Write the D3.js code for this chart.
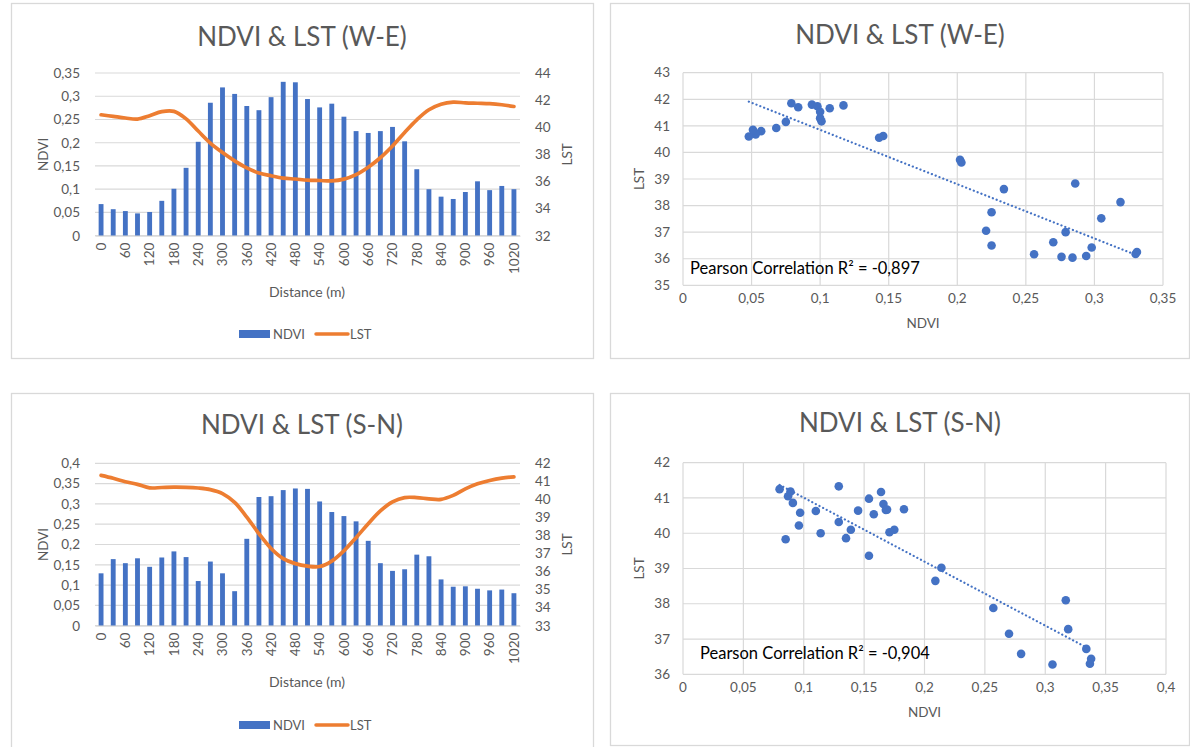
<!DOCTYPE html>
<html>
<head>
<meta charset="utf-8">
<script src="https://cdn.jsdelivr.net/npm/d3@7/dist/d3.min.js"></script>
<style>
  body { margin: 0; background: #fff; }
  text { font-family: Lato, "Open Sans", sans-serif; fill: #595959; }
</style>
</head>
<body>
<svg id="chart" width="1190" height="747"></svg>
<script>
// distance along the transect (m)
var distance = [0,30,60,90,120,150,180,210,240,270,300,330,360,390,420,450,480,510,540,570,600,630,660,690,720,750,780,810,840,870,900,930,960,990,1020];

// W-E transect
var ndviWE = [0.068,0.057,0.053,0.048,0.051,0.075,0.101,0.146,0.202,0.286,0.319,0.305,0.279,0.270,0.298,0.331,0.330,0.294,0.276,0.284,0.256,0.225,0.221,0.225,0.234,0.203,0.143,0.100,0.084,0.079,0.094,0.117,0.098,0.107,0.100];
var lstWE  = [40.92,40.80,40.68,40.60,40.85,41.15,41.17,40.62,39.72,38.83,38.13,37.52,37.00,36.62,36.42,36.25,36.18,36.10,36.07,36.04,36.17,36.50,37.05,37.75,38.62,39.62,40.55,41.29,41.70,41.85,41.80,41.77,41.74,41.66,41.53];

// S-N transect
var ndviSN = [0.129,0.164,0.154,0.166,0.145,0.168,0.183,0.169,0.110,0.158,0.129,0.085,0.214,0.317,0.319,0.334,0.338,0.337,0.306,0.280,0.270,0.257,0.209,0.154,0.135,0.139,0.175,0.171,0.114,0.096,0.097,0.091,0.087,0.089,0.080];
var lstSN  = [41.33,41.17,40.98,40.83,40.64,40.66,40.68,40.67,40.63,40.54,40.32,39.83,39.02,38.10,37.28,36.72,36.44,36.30,36.28,36.58,37.15,37.88,38.65,39.36,39.86,40.10,40.10,40.03,40.00,40.22,40.58,40.86,41.05,41.18,41.25];

// tick values
var ndviTicksWE = [0,0.05,0.1,0.15,0.2,0.25,0.3,0.35];
var lstTicksWE  = [32,34,36,38,40,42,44];
var ndviTicksSN = [0,0.05,0.1,0.15,0.2,0.25,0.3,0.35,0.4];
var lstTicksSN  = [33,34,35,36,37,38,39,40,41,42];
var scatterXTicksWE = [0,0.05,0.1,0.15,0.2,0.25,0.3,0.35];
var scatterYTicksWE = [35,36,37,38,39,40,41,42,43];
var scatterXTicksSN = [0,0.05,0.1,0.15,0.2,0.25,0.3,0.35,0.4];
var scatterYTicksSN = [36,37,38,39,40,41,42];

var BLUE = '#4472C4', ORANGE = '#ED7D31', GRID = '#d9d9d9';
var fmt = function(d){ return String(d).replace('.', ','); };

var svg = d3.select('#chart');
svg.append('rect').attr('width', 1190).attr('height', 747).attr('fill', '#fff');

// panel frames
var panels = [[11,3,582,355],[610,3,579,355],[11,393,582,360],[610,393,579,352]];
svg.selectAll('.panel').data(panels).enter().append('rect')
	.attr('class', 'panel')
	.attr('x', function(d){ return d[0] + 0.5; })
	.attr('y', function(d){ return d[1] + 0.5; })
	.attr('width', function(d){ return d[2]; })
	.attr('height', function(d){ return d[3]; })
	.attr('fill', 'none').attr('stroke', GRID).attr('stroke-width', 1.3);

function title(x, y, txt){
	svg.append('text').attr('x', x).attr('y', y)
		.attr('text-anchor', 'middle').style('font-size', '26px').text(txt);
}

function comboChart(o){
	var x = d3.scaleBand().domain(distance).range([o.left, o.right])
		.paddingInner(0.6).paddingOuter(0.3);
	var y = d3.scaleLinear().domain([0, d3.max(o.ndviTicks)]).range([o.bottom, o.top]);
	var y2 = d3.scaleLinear().domain(d3.extent(o.lstTicks)).range([o.bottom, o.top]);
	var g = svg.append('g');

	// gridlines
	g.selectAll('.grid').data(o.ndviTicks).enter().append('line')
		.attr('x1', o.left).attr('x2', o.right)
		.attr('y1', function(d){ return y(d); }).attr('y2', function(d){ return y(d); })
		.attr('stroke', GRID).attr('stroke-width', 1.2);

	// bars
	g.selectAll('.bar').data(o.ndvi).enter().append('rect')
		.attr('class', 'bar').attr('fill', BLUE)
		.attr('x', function(d, i){ return x(distance[i]); })
		.attr('width', x.bandwidth())
		.attr('y', function(d){ return y(d); })
		.attr('height', function(d){ return o.bottom - y(d); });

	// LST line
	var line = d3.line()
		.x(function(d, i){ return x(distance[i]) + x.bandwidth() / 2; })
		.y(function(d){ return y2(d); })
		.curve(d3.curveCatmullRom.alpha(0.5));
	g.append('path').datum(o.lst)
		.attr('d', line).attr('fill', 'none')
		.attr('stroke', ORANGE).attr('stroke-width', 3.7).attr('stroke-linecap', 'round');

	// axes
	var ax = g.append('g').attr('transform', 'translate(0,' + o.bottom + ')')
		.call(d3.axisBottom(x).tickValues(distance.filter(function(d, i){ return i % 2 === 0; })).tickSize(0));
	ax.select('.domain').attr('stroke', GRID);
	ax.selectAll('text').attr('transform', 'rotate(-90)').attr('text-anchor', 'end')
		.attr('x', -7).attr('y', 0).attr('dy', '0.35em')
		.style('font-size', '13.5px').style('font-family', 'Lato').attr('fill', '#595959');

	var ayl = g.append('g').attr('transform', 'translate(' + (o.left - 12) + ',0)')
		.call(d3.axisLeft(y).tickValues(o.ndviTicks).tickSize(0).tickFormat(fmt));
	ayl.select('.domain').remove();
	ayl.selectAll('text').style('font-size', '13.5px').style('font-family', 'Lato').attr('fill', '#595959');

	var ayr = g.append('g').attr('transform', 'translate(' + (o.right + 12) + ',0)')
		.call(d3.axisRight(y2).tickValues(o.lstTicks).tickSize(0));
	ayr.select('.domain').remove();
	ayr.selectAll('text').style('font-size', '13.5px').style('font-family', 'Lato').attr('fill', '#595959');

	// axis titles
	var midY = (o.top + o.bottom) / 2;
	g.append('text').attr('transform', 'translate(48,' + midY + ') rotate(-90)')
		.attr('text-anchor', 'middle').style('font-size', '13.5px').text('NDVI');
	g.append('text').attr('transform', 'translate(572,' + midY + ') rotate(-90)')
		.attr('text-anchor', 'middle').style('font-size', '13.5px').text('LST');
	g.append('text').attr('x', 307).attr('y', o.axisTitleY)
		.attr('text-anchor', 'middle').style('font-size', '14px').text('Distance (m)');

	// legend
	var lg = g.append('g').attr('transform', 'translate(239,' + o.legendY + ')');
	lg.append('rect').attr('x', 0).attr('y', -4).attr('width', 31).attr('height', 8).attr('fill', BLUE);
	lg.append('text').attr('x', 34).attr('y', 0).attr('dy', '0.35em').style('font-size', '13px').text('NDVI');
	lg.append('line').attr('x1', 77).attr('x2', 109).attr('y1', 0).attr('y2', 0)
		.attr('stroke', ORANGE).attr('stroke-width', 3.5).attr('stroke-linecap', 'round');
	lg.append('text').attr('x', 111).attr('y', 0).attr('dy', '0.35em').style('font-size', '13px').text('LST');
}

function scatterChart(o){
	var x = d3.scaleLinear().domain(d3.extent(o.xTicks)).range([o.left, o.right]);
	var y = d3.scaleLinear().domain(d3.extent(o.yTicks)).range([o.bottom, o.top]);
	var g = svg.append('g');
	var pts = o.ndvi.map(function(d, i){ return [d, o.lst[i]]; });

	g.selectAll('.vgrid').data(o.xTicks).enter().append('line')
		.attr('x1', function(d){ return x(d); }).attr('x2', function(d){ return x(d); })
		.attr('y1', o.top).attr('y2', o.bottom)
		.attr('stroke', GRID).attr('stroke-width', 1.2);
	g.selectAll('.hgrid').data(o.yTicks).enter().append('line')
		.attr('x1', o.left).attr('x2', o.right)
		.attr('y1', function(d){ return y(d); }).attr('y2', function(d){ return y(d); })
		.attr('stroke', GRID).attr('stroke-width', 1.2);

	// x and y labels
	g.selectAll('.xl').data(o.xTicks).enter().append('text')
		.attr('x', function(d){ return x(d); }).attr('y', o.bottom + 18)
		.attr('text-anchor', 'middle').style('font-size', '13.5px').text(fmt);
	g.selectAll('.yl').data(o.yTicks).enter().append('text')
		.attr('x', o.left - 13).attr('y', function(d){ return y(d); }).attr('dy', '0.35em')
		.attr('text-anchor', 'end').style('font-size', '13.5px').text(fmt);

	g.append('text').attr('x', (o.left + o.right) / 2).attr('y', o.bottom + 43)
		.attr('text-anchor', 'middle').style('font-size', '13.5px').text('NDVI');
	g.append('text').attr('transform', 'translate(644,' + ((o.top + o.bottom) / 2) + ') rotate(-90)')
		.attr('text-anchor', 'middle').style('font-size', '13.5px').text('LST');

	// least squares trend line
	var mx = d3.mean(pts, function(p){ return p[0]; }), my = d3.mean(pts, function(p){ return p[1]; });
	var sxy = d3.sum(pts, function(p){ return (p[0] - mx) * (p[1] - my); });
	var sxx = d3.sum(pts, function(p){ return (p[0] - mx) * (p[0] - mx); });
	var b = sxy / sxx, a = my - b * mx;
	var ex = d3.extent(pts, function(p){ return p[0]; });
	g.append('line')
		.attr('x1', x(ex[0])).attr('y1', y(a + b * ex[0]))
		.attr('x2', x(ex[1])).attr('y2', y(a + b * ex[1]))
		.attr('stroke', BLUE).attr('stroke-width', 2.2)
		.attr('stroke-dasharray', '0.1,4').attr('stroke-linecap', 'round');

	g.selectAll('.dot').data(pts).enter().append('circle')
		.attr('cx', function(p){ return x(p[0]); }).attr('cy', function(p){ return y(p[1]); })
		.attr('r', 4.3).attr('fill', BLUE);

	g.append('text').attr('x', o.labelX).attr('y', o.labelY)
		.style('font-size', '16.5px').style('fill', '#000').text(o.label);
}

title(302, 46, 'NDVI & LST (W-E)');
title(900, 44, 'NDVI & LST (W-E)');
title(302, 434, 'NDVI & LST (S-N)');
title(900, 432, 'NDVI & LST (S-N)');

comboChart({ ndvi: ndviWE, lst: lstWE, ndviTicks: ndviTicksWE, lstTicks: lstTicksWE,
	left: 95, right: 520, top: 73, bottom: 235.7, axisTitleY: 297, legendY: 334 });
comboChart({ ndvi: ndviSN, lst: lstSN, ndviTicks: ndviTicksSN, lstTicks: lstTicksSN,
	left: 95, right: 520, top: 463.3, bottom: 625.7, axisTitleY: 687, legendY: 725 });

scatterChart({ ndvi: ndviWE, lst: lstWE, xTicks: scatterXTicksWE, yTicks: scatterYTicksWE,
	left: 683, right: 1163, top: 72.7, bottom: 285.3,
	label: 'Pearson Correlation R\u00b2 = -0,897', labelX: 690, labelY: 274 });
scatterChart({ ndvi: ndviSN, lst: lstSN, xTicks: scatterXTicksSN, yTicks: scatterYTicksSN,
	left: 683, right: 1166, top: 462.7, bottom: 674.3,
	label: 'Pearson Correlation R\u00b2 = -0,904', labelX: 700, labelY: 659 });
</script>
</body>
</html>
